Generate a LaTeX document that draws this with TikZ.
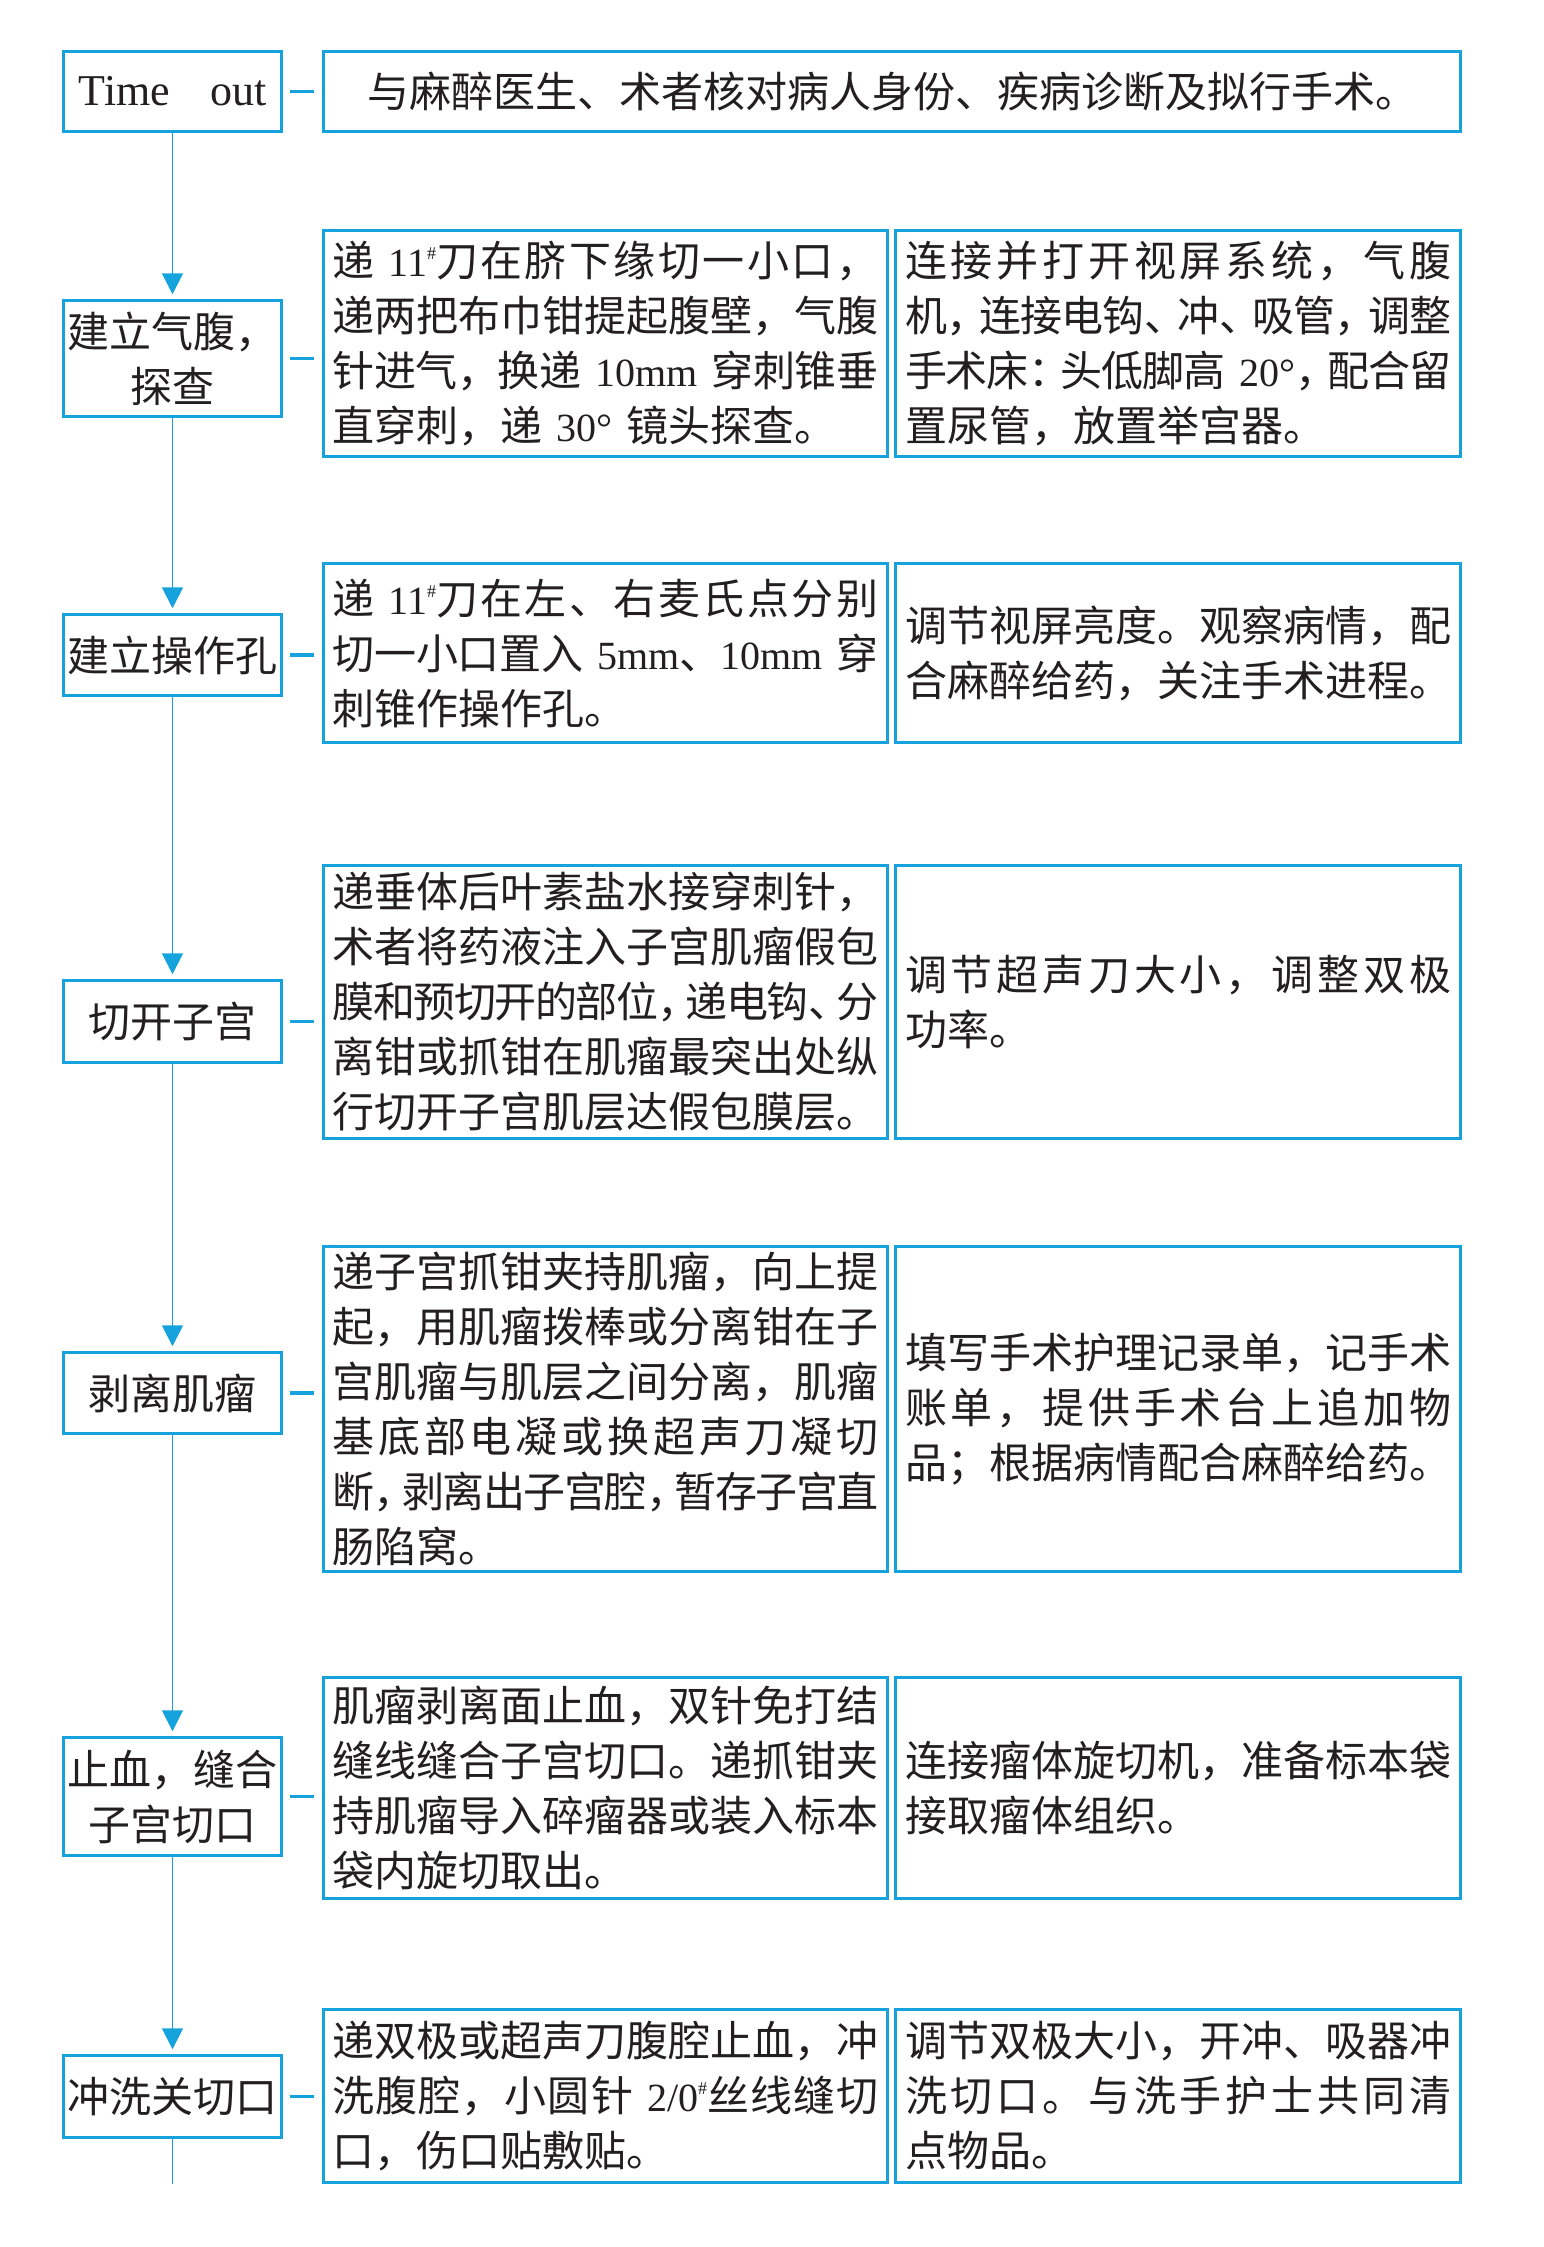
\documentclass[tikz,border=0pt]{standalone}
\usepackage{fontspec}
\setmainfont{Noto Sans CJK SC}
\newfontfamily\latf{Liberation Serif}
\usetikzlibrary{arrows.meta}
% inter-character glue for justified CJK lines
\newcount\cc
\cc="4E00
\loop \XeTeXcharclass\cc=5 \advance\cc by 1 \ifnum\cc<"A000 \repeat
\XeTeXcharclass"FF0C=6 \XeTeXcharclass"3001=6 \XeTeXcharclass"3002=6
\XeTeXcharclass"FF1A=6 \XeTeXcharclass"FF1B=6
\XeTeXinterchartoks 5 5 = {\hskip 0pt plus 6pt minus 2pt\relax}
\XeTeXinterchartoks 5 6 = {\hskip 0pt plus 6pt minus 1pt\relax}
\XeTeXinterchartoks 6 5 = {\hskip 0pt plus 6pt minus 18pt\relax}
\XeTeXinterchartokenstate=1
\definecolor{cy}{RGB}{22,163,221}
\definecolor{ink}{RGB}{35,31,32}
\newlength\tw \setlength\tw{546pt}
\newcommand\jl[1]{\makebox[\tw][s]{#1}\\}
\newcommand\lnum[1]{{\latf\fontsize{40}{55}\selectfont #1}}
\newcommand\sh{\raisebox{17pt}{\latf\fontsize{18}{18}\selectfont\#}}
\newcommand\pg{\hskip 0pt plus 6pt minus 18pt\relax}
\begin{document}
\begin{tikzpicture}[x=1pt,y=-1pt,
  box/.style={draw=cy, line width=3.5pt, inner sep=0pt, text=ink,
    font=\fontsize{42}{55}\selectfont},
  lbox/.style={box, minimum width=218pt, align=center},
  mbox/.style={box, minimum width=564pt, text width=546pt, inner xsep=9pt, align=left},
  rbox/.style={box, minimum width=565pt, text width=546pt, inner xsep=9.5pt, align=left},
  conn/.style={draw=cy, line width=1.8pt},
  arr/.style={conn, -{Triangle[width=21pt,length=21pt]}, shorten >=4.5pt},
  tick/.style={draw=cy, line width=3.5pt, shorten <=6.5pt, shorten >=7.5pt}]
\useasboundingbox (0,0) rectangle (1544,2247);
\fill[white] (0,0) rectangle (1544,2247);

% row 1
\node[lbox, minimum height=80pt] (L1) at (172.5,91.5) {\latf\fontsize{44}{50}\selectfont Time\hspace{40pt}out};
\node[box, minimum width=1137pt, minimum height=80pt] (W1) at (892,91.5) {与麻醉医生、术者核对病人身份、疾病诊断及拟行手术。};

% row 2
\node[lbox, minimum height=116pt] (L2) at (172.5,358.5) {建立气腹，\\探查};
\node[mbox, minimum height=226pt] (M2) at (605.5,343.5) {%
\jl{递 \lnum{11}\sh 刀在脐下缘切一小口，}
\jl{递两把布巾钳提起腹壁，气腹}
\jl{针进气，换递 \lnum{10mm} 穿刺锥垂}
直穿刺，递 \lnum{30°} 镜头探查。};
\node[rbox, minimum height=226pt] (R2) at (1178,343.5) {%
\jl{连接并打开视屏系统，气腹}
\jl{机，连接电钩、冲、吸管，调整}
\jl{手术床：头低脚高 \lnum{20°}，配合留}
置尿管，放置举宫器。};

% row 3
\node[lbox, minimum height=81pt] (L3) at (172.5,655) {建立操作孔};
\node[mbox, minimum height=179pt] (M3) at (605.5,653) {%
\jl{递 \lnum{11}\sh 刀在左、右麦氏点分别}
\jl{切一小口置入 \lnum{5mm}、\pg\lnum{10mm} 穿}
刺锥作操作孔。};
\node[rbox, minimum height=179pt] (R3) at (1178,653) {%
\jl{调节视屏亮度。观察病情，配}
合麻醉给药，关注手术进程。};

% row 4
\node[lbox, minimum height=82pt] (L4) at (172.5,1021.5) {切开子宫};
\node[mbox, minimum height=273pt] (M4) at (605.5,1002) {%
\jl{递垂体后叶素盐水接穿刺针，}
\jl{术者将药液注入子宫肌瘤假包}
\jl{膜和预切开的部位，递电钩、分}
\jl{离钳或抓钳在肌瘤最突出处纵}
行切开子宫肌层达假包膜层。};
\node[rbox, minimum height=273pt] (R4) at (1178,1002) {%
\jl{调节超声刀大小，调整双极}
功率。};

% row 5
\node[lbox, minimum height=81pt] (L5) at (172.5,1393) {剥离肌瘤};
\node[mbox, minimum height=325pt] (M5) at (605.5,1409) {%
\jl{递子宫抓钳夹持肌瘤，向上提}
\jl{起，用肌瘤拨棒或分离钳在子}
\jl{宫肌瘤与肌层之间分离，肌瘤}
\jl{基底部电凝或换超声刀凝切}
\jl{断，剥离出子宫腔，暂存子宫直}
肠陷窝。};
\node[rbox, minimum height=325pt] (R5) at (1178,1409) {%
\jl{填写手术护理记录单，记手术}
\jl{账单，提供手术台上追加物}
品；根据病情配合麻醉给药。};

% row 6
\node[lbox, minimum height=118pt] (L6) at (172.5,1796.5) {止血，缝合\\子宫切口};
\node[mbox, minimum height=221pt] (M6) at (605.5,1788) {%
\jl{肌瘤剥离面止血，双针免打结}
\jl{缝线缝合子宫切口。递抓钳夹}
\jl{持肌瘤导入碎瘤器或装入标本}
袋内旋切取出。};
\node[rbox, minimum height=221pt] (R6) at (1178,1788) {%
\jl{连接瘤体旋切机，准备标本袋}
接取瘤体组织。};

% row 7
\node[lbox, minimum height=82pt] (L7) at (172.5,2096.5) {冲洗关切口};
\node[mbox, minimum height=173pt] (M7) at (605.5,2096) {%
\jl{递双极或超声刀腹腔止血，冲}
\jl{洗腹腔，小圆针 \lnum{2/0}\sh 丝线缝切}
口，伤口贴敷贴。};
\node[rbox, minimum height=173pt] (R7) at (1178,2096) {%
\jl{调节双极大小，开冲、吸器冲}
\jl{洗切口。与洗手护士共同清}
点物品。};

\coordinate (end) at (172.5,2184);

% vertical flow
\draw[arr] (L1.south) -- (L2.north);
\draw[arr] (L2.south) -- (L3.north);
\draw[arr] (L3.south) -- (L4.north);
\draw[arr] (L4.south) -- (L5.north);
\draw[arr] (L5.south) -- (L6.north);
\draw[arr] (L6.south) -- (L7.north);
\draw[conn] (L7.south) -- (end);

% ticks
\draw[tick] (L1.east) -- (L1.east -| W1.west);
\draw[tick] (L2.east) -- (L2.east -| M2.west);
\draw[tick] (L3.east) -- (L3.east -| M3.west);
\draw[tick] (L4.east) -- (L4.east -| M4.west);
\draw[tick] (L5.east) -- (L5.east -| M5.west);
\draw[tick] (L6.east) -- (L6.east -| M6.west);
\draw[tick] (L7.east) -- (L7.east -| M7.west);
\end{tikzpicture}
\end{document}
